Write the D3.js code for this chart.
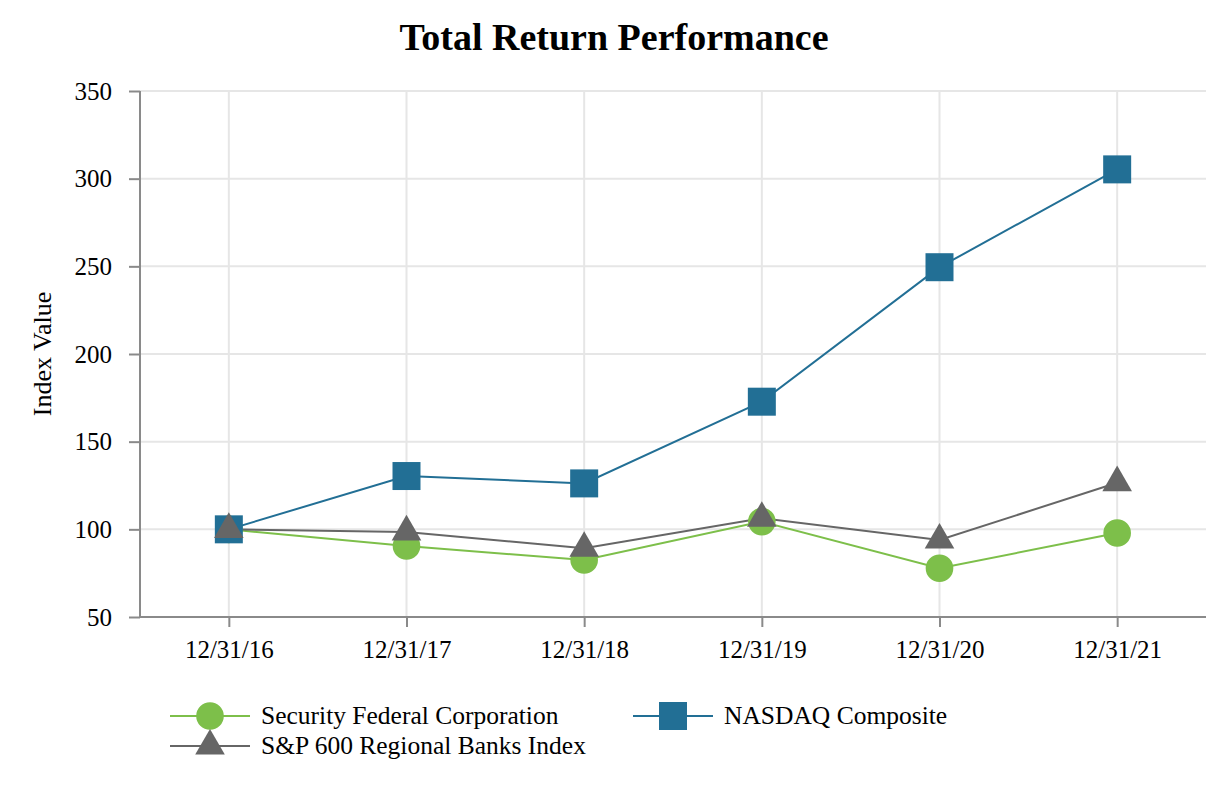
<!DOCTYPE html>
<html>
<head>
<meta charset="utf-8">
<script src="https://cdn.jsdelivr.net/npm/d3@7"></script>
<style>
html,body{margin:0;padding:0;background:#fff;}
text{font-family:"Liberation Serif","Times New Roman",serif;}
</style>
</head>
<body>
<svg id="chart" width="1226" height="788"></svg>
<script>
const categories = ["12/31/16","12/31/17","12/31/18","12/31/19","12/31/20","12/31/21"];
const sfcValues = [100, 90.5, 82.5, 104.4, 77.8, 97.9];
const nasdaqValues = [100, 130.4, 126.2, 172.8, 249.5, 305.3];
const spValues = [100, 98.5, 89.2, 106.3, 93.9, 126.6];
const yTicks = [50,100,150,200,250,300,350];
const seriesNames = ["Security Federal Corporation","NASDAQ Composite","S&P 600 Regional Banks Index"];
const seriesColors = ["#7dbf4a","#226f95","#666666"];

(function(){
const series = [
  {name: seriesNames[0], values: sfcValues, color: seriesColors[0], symbol: d3.symbolCircle, size: 600},
  {name: seriesNames[1], values: nasdaqValues, color: seriesColors[1], symbol: d3.symbolSquare, size: 784},
  {name: seriesNames[2], values: spValues, color: seriesColors[2], symbol: d3.symbolTriangle, size: 380}
];

const svg = d3.select("#chart");
const pLeft = 140, pRight = 1206, pTop = 91, pBottom = 617;
const serif = "'Liberation Serif','Times New Roman',serif";

const x = d3.scalePoint().domain(categories).range([pLeft, pRight]).padding(0.5);
const y = d3.scaleLinear().domain([50, 350]).range([pBottom, pTop]);

// gridlines
const grid = svg.append("g");
grid.selectAll("line.h").data(yTicks.slice(1)).enter().append("line")
  .attr("x1", pLeft).attr("x2", pRight)
  .attr("y1", d => y(d)).attr("y2", d => y(d))
  .attr("stroke", "#e6e6e6").attr("stroke-width", 2);
grid.selectAll("line.v").data(categories).enter().append("line")
  .attr("x1", d => x(d)).attr("x2", d => x(d))
  .attr("y1", pTop).attr("y2", pBottom)
  .attr("stroke", "#e6e6e6").attr("stroke-width", 2);

// axes
const yAxis = svg.append("g").attr("transform", `translate(${pLeft},0)`)
  .call(d3.axisLeft(y).tickValues(yTicks).tickSize(11).tickPadding(17));
const xAxis = svg.append("g").attr("transform", `translate(0,${pBottom})`)
  .call(d3.axisBottom(x).tickSize(10).tickPadding(13));
[yAxis, xAxis].forEach(a => {
  a.attr("font-family", serif).attr("font-size", 25);
  a.select(".domain").attr("stroke", "#8a8a8a").attr("stroke-width", 2);
  a.selectAll(".tick line").attr("stroke", "#8a8a8a").attr("stroke-width", 2);
  a.selectAll(".tick text").attr("fill", "#000");
});
xAxis.select(".domain").attr("d", `M${pLeft},0H${pRight}`);
yAxis.select(".domain").attr("d", `M0,${pTop}V${pBottom}`);

// title
svg.append("text").attr("x", 614).attr("y", 50).attr("text-anchor", "middle")
  .attr("font-size", 38).attr("font-weight", "bold").text("Total Return Performance");

// y label
svg.append("text").attr("transform", "translate(51,354) rotate(-90)")
  .attr("text-anchor", "middle").attr("font-size", 26).text("Index Value");

// lines and markers
const line = d3.line().x((d, i) => x(categories[i])).y(d => y(d));
series.forEach(s => {
  svg.append("path").datum(s.values).attr("d", line)
    .attr("fill", "none").attr("stroke", s.color).attr("stroke-width", 2);
});
series.forEach(s => {
  svg.append("g").selectAll("path").data(s.values).enter().append("path")
    .attr("transform", (d, i) => `translate(${x(categories[i])},${y(d)})`)
    .attr("d", d3.symbol().type(s.symbol).size(s.size))
    .attr("fill", s.color);
});

// legend
const legendPos = [{x:170, y:716},{x:633, y:716},{x:170, y:746}];
series.forEach((s, i) => {
  const p = legendPos[i];
  const g = svg.append("g").attr("transform", `translate(${p.x},${p.y})`);
  g.append("line").attr("x1", 0).attr("x2", 80).attr("y1", 0).attr("y2", 0)
    .attr("stroke", s.color).attr("stroke-width", 2);
  g.append("path").attr("transform", "translate(40,0)")
    .attr("d", d3.symbol().type(s.symbol).size(s.size)).attr("fill", s.color);
  g.append("text").attr("x", 91).attr("y", 8).attr("font-size", 25.5).text(s.name);
});
})();
</script>
</body>
</html>
